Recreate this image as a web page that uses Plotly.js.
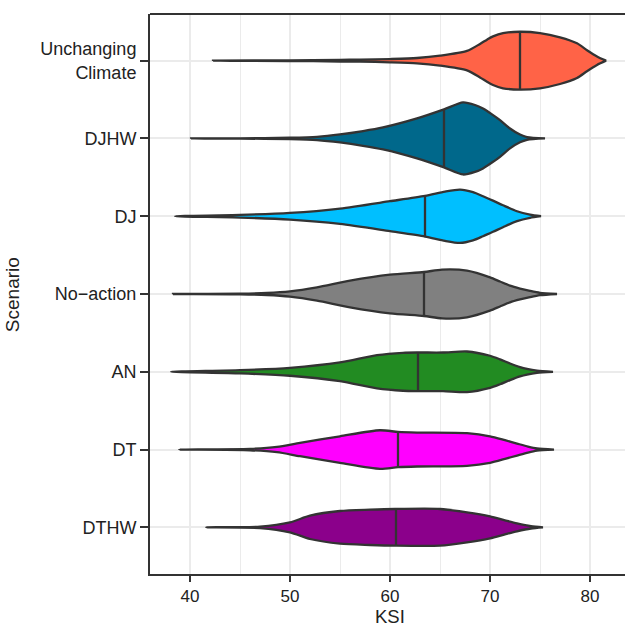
<!DOCTYPE html>
<html>
<head>
<meta charset="utf-8">
<script src="https://cdn.plot.ly/plotly-3.0.1.min.js"></script>
<style>html,body{margin:0;padding:0;background:#fff;}#chart{width:625px;height:626px;}</style>
</head>
<body>
<div id="chart"></div>
<script>
// Scenarios, top to bottom
const scenarios = ["Unchanging Climate", "DJHW", "DJ", "No-action", "AN", "DT", "DTHW"];
const tickLabels = ["Unchanging<br>Climate", "DJHW", "DJ", "No\u2212action", "AN", "DT", "DTHW"];
const colors = ["#FF6347", "#00688B", "#00BFFF", "#808080", "#228B22", "#FF00FF", "#8B008B"];
const xTitle = "KSI";
const yTitle = "Scenario";

// Density profiles: KSI values and violin half-widths (category units)
const ksiUnchanging = [42.3, 50, 55, 57, 60, 62.7, 65, 67.7, 69, 69.7, 70.3, 71.3, 73, 75, 77, 78.7, 79.7, 80.7, 81.6];
const widthUnchanging = [0, 0.004, 0.011, 0.013, 0.021, 0.034, 0.064, 0.125, 0.215, 0.27, 0.312, 0.355, 0.372, 0.355, 0.3, 0.223, 0.135, 0.055, 0];

const ksiDJHW = [40.1, 45, 50, 52.7, 55, 57.3, 59.3, 62.7, 65.4, 67.3, 68.5, 69.3, 70.2, 71, 72, 73, 73.7, 75.5];
const widthDJHW = [0, 0.002, 0.009, 0.021, 0.051, 0.094, 0.141, 0.257, 0.373, 0.463, 0.43, 0.385, 0.31, 0.236, 0.128, 0.05, 0.018, 0];

const ksiDJ = [38.5, 45, 50, 55, 60, 63.5, 65.5, 67, 68.3, 69.3, 70.3, 71.3, 72.7, 74, 75.1];
const widthDJ = [0, 0.017, 0.043, 0.099, 0.193, 0.261, 0.317, 0.343, 0.31, 0.257, 0.2, 0.141, 0.064, 0.021, 0];

const ksiNoAction = [38.3, 45, 47.7, 50, 52.7, 56, 60, 63.4, 65.2, 67.7, 70, 71, 72, 73, 74, 75, 76.7];
const widthNoAction = [0, 0.004, 0.013, 0.034, 0.086, 0.171, 0.248, 0.283, 0.313, 0.3, 0.214, 0.16, 0.107, 0.07, 0.04, 0.015, 0];

const ksiAN = [38.1, 45, 50, 55, 58.7, 61.3, 62.8, 65.3, 67.7, 70, 71, 72, 73, 73.7, 74.7, 76.3];
const widthAN = [0, 0.021, 0.051, 0.12, 0.214, 0.244, 0.248, 0.248, 0.261, 0.206, 0.16, 0.107, 0.06, 0.036, 0.014, 0];

const ksiDT = [38.9, 46, 48.7, 51, 55, 59, 60.8, 62.7, 67.7, 70, 71.5, 72.7, 73.8, 74.7, 76.4];
const widthDT = [0, 0.009, 0.034, 0.086, 0.171, 0.248, 0.227, 0.218, 0.21, 0.171, 0.12, 0.077, 0.038, 0.014, 0];

const ksiDTHW = [41.6, 47, 50, 52, 55, 58, 60.5, 65, 67.7, 70, 71.5, 72.7, 74.1, 75.3];
const widthDTHW = [0, 0.009, 0.064, 0.15, 0.21, 0.227, 0.236, 0.236, 0.193, 0.141, 0.09, 0.051, 0.015, 0];

// Medians and violin half-width at the median
const medians = [73.0, 65.4, 63.5, 63.4, 62.8, 60.8, 60.6];
const medianWidths = [0.37, 0.375, 0.261, 0.283, 0.246, 0.225, 0.236];

const profiles = [
  [ksiUnchanging, widthUnchanging],
  [ksiDJHW, widthDJHW],
  [ksiDJ, widthDJ],
  [ksiNoAction, widthNoAction],
  [ksiAN, widthAN],
  [ksiDT, widthDT],
  [ksiDTHW, widthDTHW]
];

const outline = "#333333";
const traces = [];
const positions = scenarios.map((s, i) => scenarios.length - i);

scenarios.forEach((name, i) => {
  const pos = positions[i];
  const ksi = profiles[i][0];
  const w = profiles[i][1];
  const xs = ksi.concat(ksi.slice().reverse());
  const ys = w.map(v => pos + v).concat(w.slice().reverse().map(v => pos - v));
  traces.push({
    type: "scatter", mode: "lines", name: name,
    x: xs, y: ys, fill: "toself", fillcolor: colors[i],
    line: {color: outline, width: 2.3, shape: "spline", smoothing: 0.7},
    hoverinfo: "skip", showlegend: false
  });
  traces.push({
    type: "scatter", mode: "lines",
    x: [medians[i], medians[i]],
    y: [pos - medianWidths[i], pos + medianWidths[i]],
    line: {color: outline, width: 2.3},
    hoverinfo: "skip", showlegend: false
  });
});

const family = "Liberation Sans, Arial, sans-serif";
const textColor = "#222222";

const layout = {
  width: 625, height: 626,
  margin: {l: 150, r: 0, t: 14, b: 52},
  paper_bgcolor: "#ffffff", plot_bgcolor: "#ffffff",
  font: {family: family, color: textColor},
  showlegend: false,
  xaxis: {
    range: [36, 83.5],
    tickvals: [40, 50, 60, 70, 80],
    ticktext: ["40", "50", "60", "70", "80"],
    ticks: "outside", ticklen: 6, tickwidth: 2, tickcolor: outline,
    showline: true, linecolor: outline, linewidth: 2,
    showgrid: true, gridcolor: "#EBEBEB", gridwidth: 2,
    minor: {tickvals: [45, 55, 65, 75], showgrid: true, gridcolor: "#EBEBEB", gridwidth: 1, ticks: ""},
    zeroline: false,
    tickfont: {size: 17, color: textColor, family: family},
    automargin: false
  },
  yaxis: {
    range: [0.4, 7.6],
    tickvals: positions,
    ticktext: tickLabels,
    ticks: "outside", ticklen: 8, tickwidth: 2, tickcolor: outline,
    showline: true, linecolor: outline, linewidth: 2,
    showgrid: true, gridcolor: "#EBEBEB", gridwidth: 2,
    zeroline: false,
    tickfont: {size: 18, color: textColor, family: family},
    automargin: false
  },
  annotations: [
    {text: xTitle, xref: "paper", yref: "paper", x: 0.505, y: -0.0765,
     xanchor: "center", yanchor: "middle", showarrow: false, borderpad: 0,
     font: {size: 18.5, color: textColor, family: family}},
    {text: yTitle, xref: "paper", yref: "paper", x: -0.2905, y: 0.498, textangle: -90,
     xanchor: "center", yanchor: "middle", showarrow: false,
     font: {size: 19, color: textColor, family: family}}
  ],
  shapes: [{
    type: "line", xref: "paper", yref: "paper", x0: 0, x1: 1, y0: 1, y1: 1,
    line: {color: outline, width: 2}
  }]
};

Plotly.newPlot("chart", traces, layout, {displayModeBar: false, staticPlot: true});
</script>
</body>
</html>
